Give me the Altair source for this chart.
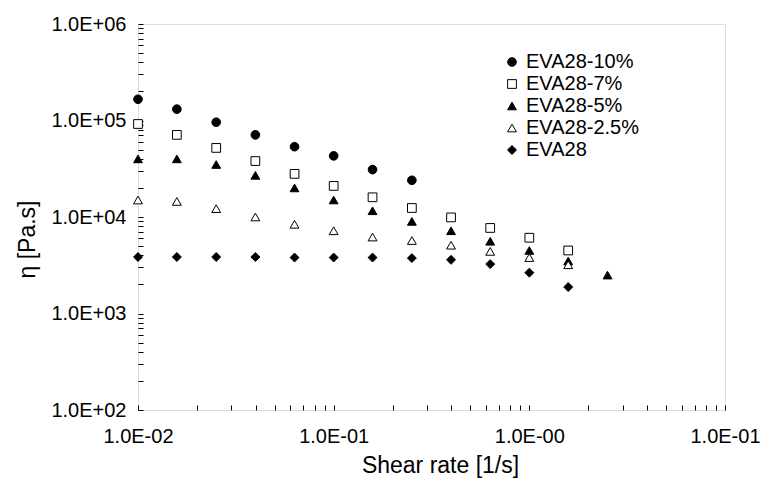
import altair as alt
import pandas as pd

shear_rate = [0.01, 0.0158, 0.0251, 0.0398, 0.0631, 0.1, 0.158, 0.251, 0.398, 0.631, 1.0, 1.58, 2.51]

series_names = ["EVA28-10%", "EVA28-7%", "EVA28-5%", "EVA28-2.5%", "EVA28"]
eva28_10 = [1.66e5, 1.31e5, 9.6e4, 7.1e4, 5.35e4, 4.3e4, 3.1e4, 2.4e4]
eva28_7 = [9.2e4, 7.1e4, 5.2e4, 3.8e4, 2.8e4, 2.1e4, 1.6e4, 1.24e4, 9.9e3, 7.7e3, 6.1e3, 4.5e3]
eva28_5 = [4.0e4, 4.0e4, 3.5e4, 2.7e4, 2.0e4, 1.5e4, 1.16e4, 9.0e3, 7.2e3, 5.6e3, 4.5e3, 3.5e3, 2.5e3]
eva28_2_5 = [1.5e4, 1.45e4, 1.22e4, 1.0e4, 8.4e3, 7.2e3, 6.2e3, 5.7e3, 5.1e3, 4.4e3, 3.8e3, 3.2e3]
eva28 = [3.85e3, 3.85e3, 3.85e3, 3.85e3, 3.8e3, 3.8e3, 3.8e3, 3.75e3, 3.6e3, 3.25e3, 2.65e3, 1.88e3]

x_tick_labels = ["1.0E-02", "1.0E-01", "1.0E-00", "1.0E-01"]
y_tick_labels = ["1.0E+02", "1.0E+03", "1.0E+04", "1.0E+05", "1.0E+06"]

rows = []
for name, vals in zip(series_names, [eva28_10, eva28_7, eva28_5, eva28_2_5, eva28]):
    for xv, yv in zip(shear_rate, vals):
        rows.append({"rate": xv, "eta": yv, "series": name})
df = pd.DataFrame(rows)

x_ticks = [m * 10.0 ** e for e in range(-2, 1) for m in range(1, 10)] + [10.0]
y_ticks = [m * 10.0 ** e for e in range(2, 6) for m in range(1, 10)] + [1e6]

x_label_expr = (
    f"abs(datum.value-0.01)<1e-6 ? '{x_tick_labels[0]}' : "
    f"abs(datum.value-0.1)<1e-6 ? '{x_tick_labels[1]}' : "
    f"abs(datum.value-1)<1e-6 ? '{x_tick_labels[2]}' : "
    f"abs(datum.value-10)<1e-6 ? '{x_tick_labels[3]}' : ''"
)
y_label_expr = (
    f"abs(datum.value-100)<1e-3 ? '{y_tick_labels[0]}' : "
    f"abs(datum.value-1000)<1e-3 ? '{y_tick_labels[1]}' : "
    f"abs(datum.value-10000)<1e-3 ? '{y_tick_labels[2]}' : "
    f"abs(datum.value-100000)<1e-3 ? '{y_tick_labels[3]}' : "
    f"abs(datum.value-1000000)<1e-3 ? '{y_tick_labels[4]}' : ''"
)

FONT = "Liberation Sans"

def legend():
    return alt.Legend(
        title=None, orient="none", legendX=364, legendY=28,
        labelFont=FONT, labelFontSize=20, labelColor="black",
        symbolStrokeColor="black", symbolStrokeWidth=1,
        rowPadding=2, labelOffset=4,
    )

chart = alt.Chart(df).mark_point(
    filled=False, strokeWidth=1, opacity=1
).encode(
    x=alt.X(
        "rate:Q",
        scale=alt.Scale(type="log", domain=[0.01, 10], nice=False),
        axis=alt.Axis(
            values=x_ticks, labelExpr=x_label_expr, title="Shear rate [1/s]",
            offset=-5, tickSize=5, domain=False, grid=False, labelPadding=16,
            labelFont=FONT, labelFontSize=20, labelColor="black", labelFlush=False,
            labelOverlap=False, tickColor="black",
            titleFont=FONT, titleFontSize=23, titleFontWeight="normal", titleColor="black",
            titleX=302, titleY=60, titleBaseline="middle", titleAlign="center",
        ),
    ),
    y=alt.Y(
        "eta:Q",
        scale=alt.Scale(type="log", domain=[100, 1e6], nice=False),
        axis=alt.Axis(
            values=y_ticks, labelExpr=y_label_expr, title="η [Pa.s]",
            offset=-5, tickSize=5, domain=False, grid=False, labelPadding=12,
            labelFont=FONT, labelFontSize=20, labelColor="black", labelFlush=False,
            labelOverlap=False, tickColor="black",
            titleFont=FONT, titleFontSize=23, titleFontWeight="normal", titleColor="black",
            titleX=-116, titleY=215, titleBaseline="middle", titleAlign="center", titleAngle=-90,
        ),
    ),
    shape=alt.Shape(
        "series:N",
        scale=alt.Scale(domain=series_names,
                        range=["circle", "square", "triangle-up", "triangle-up", "diamond"]),
        legend=legend(),
    ),
    fill=alt.Fill(
        "series:N",
        scale=alt.Scale(domain=series_names,
                        range=["black", "white", "black", "white", "black"]),
        legend=legend(),
    ),
    stroke=alt.Stroke(
        "series:N",
        scale=alt.Scale(domain=series_names,
                        range=["black", "black", "black", "black", "black"]),
        legend=legend(),
    ),
    size=alt.Size(
        "series:N",
        scale=alt.Scale(domain=series_names, range=[75, 80, 85, 60, 140]),
        legend=legend(),
    ),
).properties(
    width=587, height=386,
    autosize=alt.AutoSizeParams(type="none"),
    padding={"left": 138, "top": 24, "right": 40, "bottom": 68},
).configure_view(
    stroke="black", strokeWidth=1.3
).configure(background="white")

chart.save("out.html", embed_options={"renderer": "svg", "actions": False})
